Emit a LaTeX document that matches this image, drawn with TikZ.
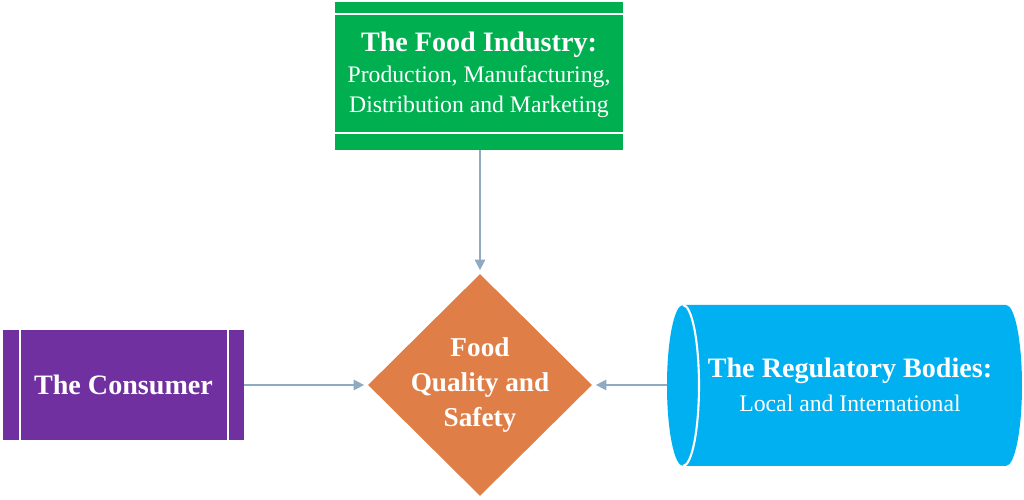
\documentclass[tikz,border=0pt]{standalone}
\usepackage{fontspec}
\setmainfont{Liberation Serif}
\usetikzlibrary{arrows.meta,shapes.geometric}
\definecolor{gr}{HTML}{00B050}
\definecolor{orng}{HTML}{E07E47}
\definecolor{purp}{HTML}{7030A0}
\definecolor{cyanb}{HTML}{00B0F0}
\definecolor{conn}{HTML}{8FAAC2}
\tikzset{link/.style={draw=conn,line width=0.8pt,-{Triangle[length=6pt,width=6pt]}},
  lbl/.style={text=white,align=center}}
\begin{document}
\begin{tikzpicture}
\useasboundingbox (0,0) rectangle (20.48,10);
% green
\fill[gr] (6.7,7.0) rectangle (12.46,9.96);
\draw[white,line width=1.2pt] (6.7,9.72) -- (12.46,9.72) (6.7,7.34) -- (12.46,7.34);
\node[lbl,font=\fontsize{13.5}{17.5}\selectfont] (ind) at (9.58,8.5) {{\fontsize{16}{17.5}\selectfont\bfseries The Food Industry:}\\Production, Manufacturing,\\Distribution and Marketing};
\coordinate (indb) at (9.6,7.0);
% diamond
\node[diamond,fill=orng,minimum width=4.48cm,minimum height=4.44cm,inner sep=0pt] (dia) at (9.6,2.3) {};
\node[lbl,font=\fontsize{15.5}{20}\selectfont\bfseries] at (dia) {Food\\Quality and\\Safety};
% consumer
\fill[purp] (0.06,1.2) rectangle (4.88,3.4);
\draw[white,line width=1.2pt] (0.4,1.2) -- (0.4,3.4) (4.56,1.2) -- (4.56,3.4);
\node[lbl,font=\fontsize{16}{18}\selectfont\bfseries] (con) at (2.47,2.3) {The Consumer};
\coordinate (conr) at (4.88,2.3);
% regulatory
\fill[cyanb] (13.66,3.9) -- (20.12,3.9) arc[start angle=90,end angle=-90,x radius=0.32cm,y radius=1.61cm] -- (13.66,0.68) arc[start angle=270,end angle=90,x radius=0.32cm,y radius=1.61cm] -- cycle;
\draw[white,line width=1.2pt] (13.66,3.9) arc[start angle=90,end angle=-90,x radius=0.32cm,y radius=1.61cm];
\node[lbl,font=\fontsize{13.5}{19}\selectfont] (reg) at (17.0,2.3) {{\fontsize{16}{19}\selectfont\bfseries The Regulatory Bodies:}\\Local and International};
\coordinate (regl) at (13.34,2.3);
% connectors
\draw[link] (indb) -- ([yshift=2pt]dia.north);
\draw[link] (conr) -- ([xshift=-2pt]dia.west);
\draw[link] (regl) -- ([xshift=2pt]dia.east);
\end{tikzpicture}
\end{document}
